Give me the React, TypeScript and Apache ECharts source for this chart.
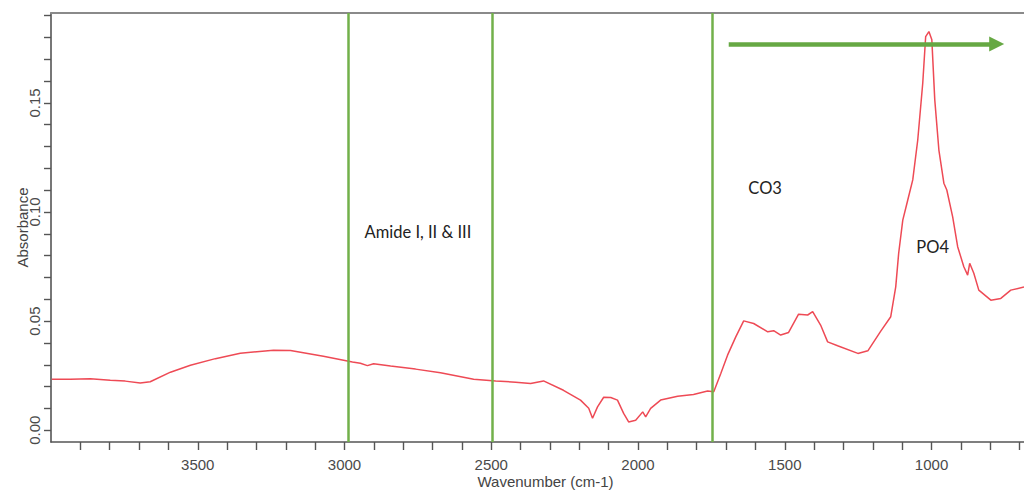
import React, { useEffect, useRef } from "react";
import * as echarts from "echarts";

// Spectrum (wavenumber in cm-1, absorbance)
const wavenumber = [
  3997, 3934, 3866, 3798, 3747, 3696, 3662, 3593, 3525, 3440,
  3355, 3242, 3184, 3072, 2973, 2946, 2922, 2901, 2843, 2758,
  2673, 2560, 2485, 2417, 2366, 2322, 2254, 2196, 2168, 2155,
  2138, 2117, 2093, 2070, 2049, 2032, 2008, 1984, 1974, 1957,
  1923, 1865, 1811, 1763, 1742, 1718, 1695, 1667, 1640, 1606,
  1558, 1538, 1514, 1487, 1453, 1422, 1405, 1378, 1354, 1320,
  1251, 1217, 1173, 1139, 1122, 1112, 1098, 1081, 1064, 1047,
  1030, 1020, 1009, 999, 989, 975, 958, 948, 928, 911,
  890, 877, 870, 856, 839, 798, 764, 730, 685,
];
const absorbance = [
  0.0233, 0.0234, 0.0236, 0.0229, 0.0225, 0.0216, 0.0222, 0.0266, 0.0298, 0.0328,
  0.0353, 0.0367, 0.0365, 0.0339, 0.0313, 0.0307, 0.0296, 0.0305, 0.0294, 0.028,
  0.0263, 0.0234, 0.0226, 0.022, 0.0214, 0.0226, 0.0183, 0.0138, 0.0101, 0.0055,
  0.0107, 0.0151, 0.015, 0.0138, 0.0077, 0.0038, 0.0046, 0.0084, 0.0061, 0.01,
  0.0138, 0.0156, 0.0164, 0.018, 0.0176, 0.026, 0.0344, 0.0428, 0.0501, 0.0489,
  0.0451, 0.0456, 0.0436, 0.0448, 0.0532, 0.0528, 0.0543, 0.0482, 0.0405, 0.0387,
  0.0352, 0.0364, 0.0454, 0.052, 0.0657, 0.0811, 0.0963, 0.1055, 0.1147, 0.133,
  0.159, 0.1804, 0.1827, 0.1789, 0.1514, 0.1284, 0.1132, 0.1101, 0.0978, 0.0841,
  0.0749, 0.0711, 0.0765, 0.0719, 0.0642, 0.0596, 0.0604, 0.0642, 0.0656,
];

const xTickValues = [
  700, 800, 900, 1000, 1100, 1200, 1300, 1400, 1500, 1600, 1700, 1800, 1900,
  2000, 2100, 2200, 2300, 2400, 2500, 2600, 2700, 2800, 2900, 3000, 3100,
  3200, 3300, 3400, 3500, 3600, 3700, 3800, 3900,
];
const xLabelValues = [1000, 1500, 2000, 2500, 3000, 3500];
const yTickValues = [
  0, 0.01, 0.02, 0.03, 0.04, 0.05, 0.06, 0.07, 0.08, 0.09, 0.1, 0.11, 0.12,
  0.13, 0.14, 0.15, 0.16, 0.17, 0.18, 0.19,
];
const yLabelValues = [0, 0.05, 0.1, 0.15];

const regionBoundaries = [2987, 2496, 1746];
const arrowStart = [1691, 0.177];
const arrowEnd = [778, 0.177];
const annotationTexts = ["Amide I, II & III", "CO3", "PO4"];
const annotationWavenumbers = [2750, 1567, 996];
const annotationAbsorbance = [0.0908, 0.111, 0.0839];

const X_MIN = 685;
const X_MAX = 4000;
const Y_MIN = -0.0054;
const Y_MAX = 0.1912;

const AXIS_FONT = "'Liberation Sans', Arial, sans-serif";
const NOTE_FONT = "Lato, 'Open Sans', sans-serif";

export default function App() {
  const ref = useRef<HTMLDivElement>(null);

  useEffect(() => {
    if (!ref.current) return;
    const chart = echarts.init(ref.current, undefined, { renderer: "svg" });
    const data = wavenumber.map((w, i) => [w, absorbance[i]]);
    const green = "#72b04a";

    chart.setOption({
      animation: false,
      backgroundColor: "#ffffff",
      grid: {
        left: 51,
        right: 0,
        top: 13,
        bottom: 49,
        containLabel: false,
        outerBoundsMode: "none",
      },
      xAxis: [
        {
          type: "value",
          inverse: true,
          min: X_MIN,
          max: X_MAX,
          name: "Wavenumber (cm-1)",
          nameLocation: "middle",
          nameGap: 32,
          nameMoveOverlap: false,
          nameTextStyle: {
            fontFamily: AXIS_FONT,
            fontSize: 15,
            color: "#444",
            padding: [0, 0, 0, 16],
          },
          splitLine: { show: false },
          axisLine: { show: true, onZero: false, lineStyle: { color: "#555", width: 1.6 } },
          axisTick: {
            show: true,
            length: 8,
            customValues: xTickValues,
            lineStyle: { color: "#555", width: 1.4 },
          },
          axisLabel: {
            customValues: xLabelValues,
            margin: 15,
            fontFamily: AXIS_FONT,
            fontSize: 15,
            color: "#4a4a4a",
            formatter: (v: number) => String(Math.round(v)),
          },
        },
        {
          type: "value",
          inverse: true,
          position: "top",
          min: X_MIN,
          max: X_MAX,
          splitLine: { show: false },
          axisLine: { show: true, onZero: false, lineStyle: { color: "#8a8a8a", width: 2 } },
          axisTick: { show: false },
          axisLabel: { show: false },
        },
      ],
      yAxis: {
        type: "value",
        min: Y_MIN,
        max: Y_MAX,
        name: "Absorbance",
        nameLocation: "middle",
        nameRotate: 90,
        nameGap: 21,
        nameMoveOverlap: false,
        nameTextStyle: { fontFamily: AXIS_FONT, fontSize: 15, color: "#444" },
        splitLine: { show: false },
        axisLine: { show: true, onZero: false, lineStyle: { color: "#555", width: 1.6 } },
        axisTick: {
          show: true,
          length: 7,
          customValues: yTickValues,
          lineStyle: { color: "#555", width: 1.4 },
        },
        axisLabel: {
          customValues: yLabelValues,
          rotate: 90,
          margin: 9,
          fontFamily: AXIS_FONT,
          fontSize: 15,
          color: "#4a4a4a",
          formatter: (v: number) => v.toFixed(2),
        },
      },
      series: [
        {
          type: "line",
          data,
          showSymbol: false,
          symbol: "none",
          smooth: false,
          lineStyle: { color: "#ee4a55", width: 1.5 },
          z: 3,
          markLine: {
            silent: true,
            symbol: ["none", "none"],
            label: { show: false },
            lineStyle: { color: green, width: 2.5, type: "solid" },
            data: [
              ...regionBoundaries.map((x) => ({ xAxis: x })),
              [
                {
                  coord: arrowStart,
                  symbol: "none",
                  lineStyle: { color: "#66a843", width: 4.5, type: "solid" },
                },
                {
                  coord: arrowEnd,
                  symbol: "triangle",
                  symbolSize: [15, 15],
                  lineStyle: { color: "#66a843", width: 4.5, type: "solid" },
                },
              ],
            ],
          },
          markPoint: {
            silent: true,
            symbol: "circle",
            symbolSize: 0,
            data: annotationTexts.map((t, i) => ({
              coord: [annotationWavenumbers[i], annotationAbsorbance[i]],
              value: t,
              label: {
                show: true,
                position: "inside",
                formatter: t,
                fontFamily: NOTE_FONT,
                fontSize: 16.5,
                color: "#222",
              },
            })),
          },
        },
      ],
    });

    return () => {
      chart.dispose();
    };
  }, []);

  return (
    <div
      ref={ref}
      style={{ position: "absolute", left: 0, top: 0, width: 1024, height: 491, background: "#fff" }}
    />
  );
}
